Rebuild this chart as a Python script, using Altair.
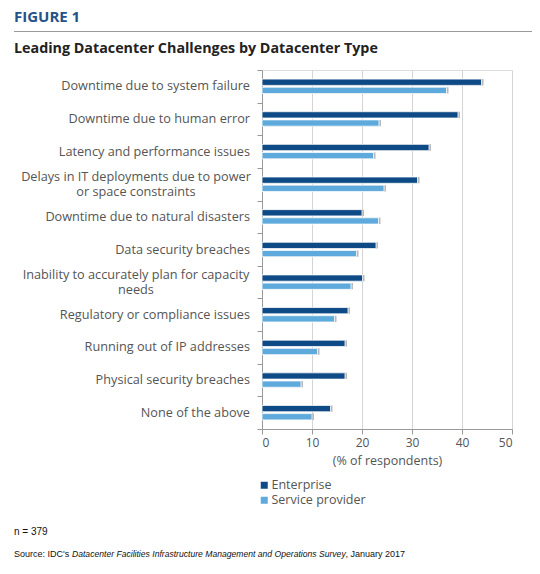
import altair as alt
import pandas as pd

categories = [
    "Downtime due to system failure",
    "Downtime due to human error",
    "Latency and performance issues",
    "Delays in IT deployments due to power|or space constraints",
    "Downtime due to natural disasters",
    "Data security breaches",
    "Inability to accurately plan for capacity|needs",
    "Regulatory or compliance issues",
    "Running out of IP addresses",
    "Physical security breaches",
    "None of the above",
]
enterprise = [43.9, 39.2, 33.4, 31.1, 20.0, 22.8, 20.1, 17.2, 16.6, 16.6, 13.7]
service_provider = [36.9, 23.4, 22.3, 24.4, 23.3, 18.9, 17.8, 14.5, 11.1, 7.8, 10.0]
series = ["Enterprise", "Service provider"]
colors = ["#0E4A86", "#5EAADD"]

rows = []
for c, e, s in zip(categories, enterprise, service_provider):
    rows.append({"challenge": c, "type": series[0], "pct": e})
    rows.append({"challenge": c, "type": series[1], "pct": s})
df = pd.DataFrame(rows)
labels = pd.DataFrame({"challenge": categories,
                       "multi": ["|" in c for c in categories]})

FONT = "Open Sans"
GREY = "#555555"

y_enc = alt.Y("challenge:N", sort=categories, title=None,
              scale=alt.Scale(paddingInner=0, paddingOuter=0),
              axis=alt.Axis(tickBand="extent", labels=False,
                            tickSize=5, tickColor="#999",
                            domainColor="#999", grid=False))
yoff = alt.YOffset("type:N", sort=series,
                   scale=alt.Scale(paddingInner=0, paddingOuter=1))
x_enc = alt.X("pct:Q", title="(% of respondents)",
              scale=alt.Scale(domain=[0, 50]),
              axis=alt.Axis(values=[0, 10, 20, 30, 40, 50], labelFont=FONT,
                            labelFontSize=12, labelColor=GREY, titleFont=FONT,
                            titleFontSize=12.5, titleColor=GREY,
                            titleFontWeight="normal", titlePadding=6,
                            tickSize=5, tickColor="#999", domainColor="#999",
                            gridColor="#d4d4d4", labelPadding=3))

base = alt.Chart(df)

shadow = base.mark_bar(color="#808080", opacity=0.55, height=6.3, xOffset=2, yOffset=2).encode(
    x=x_enc, y=y_enc, yOffset=yoff)

bars = base.mark_bar(stroke="white", strokeWidth=0.8, height=6.3).encode(
    x=x_enc, y=y_enc, yOffset=yoff,
    color=alt.Color("type:N", sort=series, title=None,
                    scale=alt.Scale(domain=series, range=colors),
                    legend=alt.Legend(orient="none", legendX=-4, legendY=409,
                                      symbolType="square", symbolSize=49,
                                      symbolStrokeWidth=0, labelFont=FONT,
                                      labelFontSize=12.5, labelColor=GREY,
                                      rowPadding=2, padding=0, labelOffset=1)))

lab_base = alt.Chart(labels)
single = lab_base.transform_filter("!datum.multi").mark_text(
    align="right", baseline="middle", font=FONT, fontSize=12.7, color=GREY
).encode(y=alt.Y("challenge:N", sort=categories), x=alt.value(-12), text="challenge:N")
double = lab_base.transform_filter("datum.multi").mark_text(
    align="center", baseline="middle", font=FONT, fontSize=12.7, color=GREY,
    lineBreak="|", lineHeight=15, dy=-7.5
).encode(y=alt.Y("challenge:N", sort=categories), x=alt.value(-126), text="challenge:N")

def txt(s, x, y, size, weight="normal", color="#000", font=FONT, style="normal"):
    return alt.Chart(pd.DataFrame({"t": [s]})).mark_text(
        align="left", baseline="alphabetic", font=font, fontSize=size,
        fontWeight=weight, color=color, fontStyle=style
    ).encode(text="t:N", x=alt.value(x), y=alt.value(y))

fig = txt("FIGURE 1", -248, -48, 15, "bold", "#24528A")
title = txt("Leading Datacenter Challenges by Datacenter Type", -248, -17, 14.3, "bold", "#222222")
rule = alt.Chart(pd.DataFrame({"t": [0]})).mark_rule(color="#9a9a9a", strokeWidth=1).encode(
    x=alt.value(-248), x2=alt.value(278), y=alt.value(-38.5))
n_note = txt("n = 379", -248, 465, 10, font="Liberation Sans", color="#111")
src1 = txt("Source: IDC's", -248, 487, 9, font="Liberation Sans", color="#111")
src2 = txt("Datacenter Facilities Infrastructure Management and Operations Survey",
           -190, 487, 8.6, font="Liberation Sans", color="#111", style="italic")
src3 = txt(", January 2017", 83.5, 487, 9, font="Liberation Sans", color="#111")

chart = alt.layer(shadow, bars, single, double, fig, title, rule, n_note, src1, src2, src3).properties(
    width=250, height=359,
    autosize=alt.AutoSizeParams(type="none"),
    padding={"left": 254, "top": 62, "right": 20, "bottom": 137},
).configure_view(stroke="#aaaaaa").configure(background="white")

chart.save("out.html", embed_options={"renderer": "svg", "actions": False})
